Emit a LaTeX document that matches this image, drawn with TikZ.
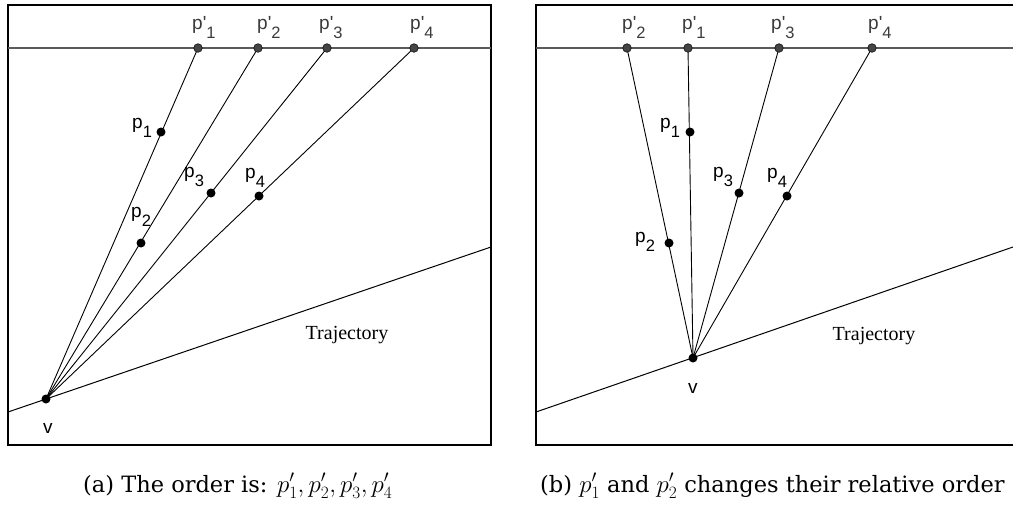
\documentclass[tikz,border=0pt]{standalone}
\usepackage{fontspec}
\newfontfamily\lblfont{Liberation Sans}[Ligatures=TeXOff]
\newfontfamily\trajfont{Liberation Serif}
\newfontfamily\capfont{DejaVu Serif}
\definecolor{pgray}{HTML}{454545}
\definecolor{lgray}{HTML}{5A5A5A}
\definecolor{tgray}{HTML}{3A3A3A}
\newcommand{\sub}[1]{\raisebox{-9pt}{\fontsize{16.5}{16.5}\selectfont #1}}
\newcommand{\pl}[1]{p\sub{#1}}
\newcommand{\ppl}[1]{p'\sub{#1}}
\newcommand{\capmath}[1]{{\fontsize{26}{30}\selectfont$#1$}}
\begin{document}
\begin{tikzpicture}[x=1pt,y=-1pt,
  frame/.style={line width=2pt},
  screen/.style={draw=lgray,line width=1.6pt},
  ray/.style={line width=0.9pt},
  trajline/.style={line width=1pt},
  proj/.style={circle,fill=pgray,draw=black!90,line width=0.7pt,inner sep=0pt,minimum size=8.5pt},
  pt/.style={circle,fill=black,inner sep=0pt,minimum size=9pt},
  lbl/.style={anchor=base west,inner sep=0pt,font=\lblfont\fontsize{19}{19}\selectfont},
  toplbl/.style={lbl,text=tgray},
  traj/.style={anchor=base,inner sep=0pt,font=\trajfont\fontsize{20}{20}\selectfont},
  captext/.style={anchor=base west,inner sep=0pt,font=\capfont\fontsize{22.5}{26}\selectfont}]
\useasboundingbox (0,0) rectangle (1013,504);
\clip (0,0) rectangle (1013,504);
% ---------------- left panel ----------------
\draw[frame] (8,5) rectangle (491,445);
\coordinate (La) at (8,48);
\coordinate (Lb) at (491,48);
\draw[screen] (La) -- (Lb);
\coordinate (Lta) at (8,412);
\coordinate (Ltb) at (491,247);
\draw[trajline] (Lta) -- (Ltb);
\coordinate (Lv) at (46,399);
\coordinate (Lq1) at (198,48);
\coordinate (Lq2) at (258,48);
\coordinate (Lq3) at (327,48);
\coordinate (Lq4) at (414,48);
\foreach \i in {1,2,3,4} {\draw[ray] (Lv) -- (Lq\i);}
\node[proj] (LQ1) at (Lq1) {};
\node[proj] (LQ2) at (Lq2) {};
\node[proj] (LQ3) at (Lq3) {};
\node[proj] (LQ4) at (Lq4) {};
\node[pt] (LP1) at (161,132) {};
\node[pt] (LP2) at (141,243) {};
\node[pt] (LP3) at (211,193) {};
\node[pt] (LP4) at (259,196) {};
\node[pt] (LV) at (Lv) {};
\node[toplbl] (Ll1) at (192,29) {\ppl{1}};
\node[toplbl] (Ll2) at (257,29) {\ppl{2}};
\node[toplbl] (Ll3) at (319,29) {\ppl{3}};
\node[toplbl] (Ll4) at (410,29) {\ppl{4}};
\node[lbl] (Lk1) at (132,128) {\pl{1}};
\node[lbl] (Lk2) at (131,217) {\pl{2}};
\node[lbl] (Lk3) at (184,177) {\pl{3}};
\node[lbl] (Lk4) at (245,178) {\pl{4}};
\node[lbl] (Lkv) at (43,433) {v};
\node[traj] (Ltr) at (347,339) {Trajectory};
% ---------------- right panel ----------------
\draw[frame] (536,5) rectangle (1030,445);
\coordinate (Ra) at (536,48);
\coordinate (Rb) at (1013,48);
\draw[screen] (Ra) -- (Rb);
\coordinate (Rta) at (536,412);
\coordinate (Rtb) at (1013,247);
\draw[trajline] (Rta) -- (Rtb);
\coordinate (Rv) at (693,358);
\coordinate (Rq1) at (688,48);
\coordinate (Rq2) at (627,48);
\coordinate (Rq3) at (779,48);
\coordinate (Rq4) at (872,48);
\foreach \i in {1,2,3,4} {\draw[ray] (Rv) -- (Rq\i);}
\node[proj] (RQ1) at (Rq1) {};
\node[proj] (RQ2) at (Rq2) {};
\node[proj] (RQ3) at (Rq3) {};
\node[proj] (RQ4) at (Rq4) {};
\node[pt] (RP1) at (690,132) {};
\node[pt] (RP2) at (669,243) {};
\node[pt] (RP3) at (739,193) {};
\node[pt] (RP4) at (787,196) {};
\node[pt] (RV) at (Rv) {};
\node[toplbl] (Rl2) at (622,29) {\ppl{2}};
\node[toplbl] (Rl1) at (682,29) {\ppl{1}};
\node[toplbl] (Rl3) at (771,29) {\ppl{3}};
\node[toplbl] (Rl4) at (868,29) {\ppl{4}};
\node[lbl] (Rk1) at (660,128) {\pl{1}};
\node[lbl] (Rk2) at (635,242) {\pl{2}};
\node[lbl] (Rk3) at (713,177) {\pl{3}};
\node[lbl] (Rk4) at (767,178) {\pl{4}};
\node[lbl] (Rkv) at (688,393) {v};
\node[traj] (Rtr) at (874,340) {Trajectory};
% ---------------- captions ----------------
\node[captext] (capa) at (83,492) {(a) The order is: \capmath{p'_1, p'_2, p'_3, p'_4}};
\node[captext] (capb) at (540,492) {(b) \capmath{p'_1} and \capmath{p'_2} changes their relative order};
\end{tikzpicture}
\end{document}
